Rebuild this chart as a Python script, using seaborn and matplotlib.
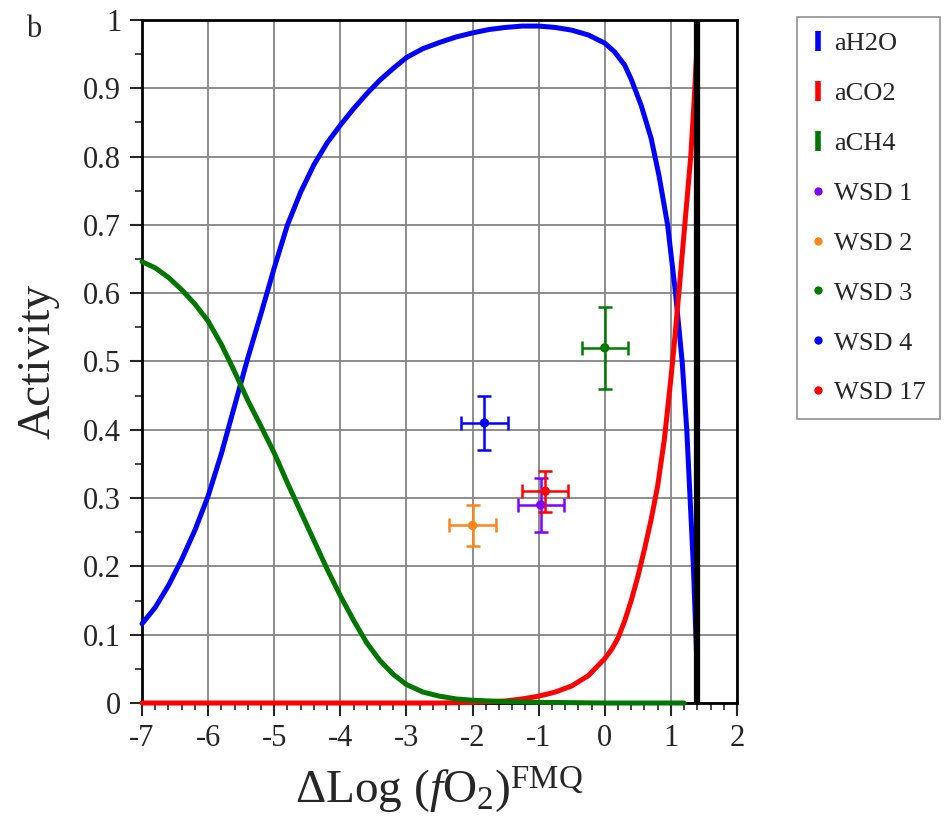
import numpy as np
import pandas as pd
import matplotlib
matplotlib.use("Agg")
import matplotlib.pyplot as plt
from matplotlib.lines import Line2D
from matplotlib.ticker import MultipleLocator, FuncFormatter
import seaborn as sns

# activity curves
h2o_x = [-7.0, -6.8, -6.6, -6.4, -6.2, -6.0, -5.8, -5.6, -5.4, -5.2, -5.0, -4.8, -4.6,
         -4.4, -4.2, -4.0, -3.8, -3.6, -3.4, -3.2, -3.0, -2.75, -2.5, -2.25, -2.0, -1.75,
         -1.5, -1.25, -1.0, -0.75, -0.5, -0.25, 0.0, 0.15, 0.3, 0.4, 0.55, 0.7, 0.82, 0.95,
         1.07, 1.17, 1.24, 1.29, 1.34, 1.37, 1.40]
h2o_y = [0.116, 0.14, 0.172, 0.21, 0.253, 0.303, 0.365, 0.435, 0.505, 0.57, 0.637, 0.70, 0.748,
         0.788, 0.82, 0.846, 0.870, 0.892, 0.912, 0.929, 0.945, 0.958, 0.967, 0.975, 0.981, 0.986,
         0.989, 0.991, 0.991, 0.989, 0.985, 0.978, 0.966, 0.953, 0.934, 0.913, 0.875, 0.827, 0.772, 0.70,
         0.60, 0.50, 0.40, 0.30, 0.20, 0.12, 0.04]

co2_x = [-7.0, -2.5, -2.0, -1.5, -1.25, -1.0, -0.75, -0.5, -0.25, 0.0, 0.1, 0.2, 0.3, 0.4,
         0.5, 0.6, 0.7, 0.8, 0.9, 1.0, 1.05, 1.12, 1.21, 1.30, 1.35, 1.40]
co2_y = [0.0, 0.0, 0.001, 0.003, 0.006, 0.01, 0.016, 0.025, 0.04, 0.065, 0.078, 0.095, 0.12, 0.15,
         0.185, 0.225, 0.268, 0.318, 0.385, 0.475, 0.525, 0.60, 0.70, 0.80, 0.88, 0.97]

ch4_x = [-7.0, -6.8, -6.6, -6.4, -6.2, -6.0, -5.8, -5.6, -5.4, -5.2, -5.0, -4.8, -4.6, -4.4,
         -4.2, -4.0, -3.8, -3.6, -3.4, -3.2, -3.0, -2.75, -2.5, -2.25, -2.0, -1.5, -1.0, 0.0, 1.2]
ch4_y = [0.646, 0.637, 0.623, 0.605, 0.584, 0.559, 0.525, 0.485, 0.443, 0.405, 0.366, 0.322, 0.28,
         0.238, 0.196, 0.157, 0.121, 0.088, 0.062, 0.042, 0.027, 0.016, 0.01, 0.006, 0.004, 0.002,
         0.001, 0.0, 0.0]

fmq_limit = 1.4

# samples
samples = ['WSD 1', 'WSD 2', 'WSD 3', 'WSD 4', 'WSD 17']
sample_x = [-0.97, -2.0, 0.0, -1.82, -0.9]
sample_y = [0.29, 0.26, 0.52, 0.41, 0.31]
sample_xerr = [0.35, 0.35, 0.35, 0.35, 0.35]
sample_yerr = [0.04, 0.03, 0.06, 0.04, 0.03]
sample_colors = ['#7f00ff', '#ff8419', '#007a00', '#0000ff', '#ff0000']

curve_names = ['aH2O', 'aCO2', 'aCH4']
curve_colors = ['#0000ff', '#ff0000', '#007500']

sns.set_style('ticks')
plt.rcParams['font.family'] = ['Liberation Serif', 'DejaVu Serif']
plt.rcParams['mathtext.fontset'] = 'custom'
plt.rcParams['mathtext.rm'] = 'Liberation Serif'
plt.rcParams['mathtext.it'] = 'Liberation Serif:italic'
plt.rcParams['axes.unicode_minus'] = False

curves = pd.concat([
    pd.DataFrame({'x': h2o_x, 'y': h2o_y, 'species': 'aH2O'}),
    pd.DataFrame({'x': co2_x, 'y': co2_y, 'species': 'aCO2'}),
    pd.DataFrame({'x': ch4_x, 'y': ch4_y, 'species': 'aCH4'}),
])
pts = pd.DataFrame({'x': sample_x, 'y': sample_y, 'sample': samples})

fig = plt.figure(figsize=(9.5, 8.3), dpi=100)
ax = fig.add_axes([0.1495, 0.153, 0.6263, 0.823])

ax.grid(True, which='major', color='#858585', linewidth=1.3)
ax.set_axisbelow(True)

sns.lineplot(data=curves, x='x', y='y', hue='species', hue_order=curve_names,
             palette=curve_colors, linewidth=3.6, legend=False, ax=ax, clip_on=False, zorder=3)
ax.axvline(fmq_limit, color='black', linewidth=4.5, zorder=4)

for i, s in enumerate(samples):
    ax.errorbar(sample_x[i], sample_y[i], xerr=sample_xerr[i], yerr=sample_yerr[i],
                fmt='none', ecolor=sample_colors[i], elinewidth=1.8, capsize=5, capthick=1.8,
                zorder=5)
sns.scatterplot(data=pts, x='x', y='y', hue='sample', hue_order=samples,
                palette=sample_colors, s=45, edgecolor='none', legend=False, ax=ax, zorder=6)

ax.set_xlim(-7, 2)
ax.set_ylim(0, 1)
ax.xaxis.set_major_locator(MultipleLocator(1))
ax.xaxis.set_minor_locator(MultipleLocator(0.2))
ax.yaxis.set_major_locator(MultipleLocator(0.1))
ax.yaxis.set_minor_locator(MultipleLocator(0.05))
ax.yaxis.set_major_formatter(FuncFormatter(lambda v, p: f'{v:g}'))
ax.tick_params(which='major', length=9, width=1.5, labelsize=22, direction='out', pad=6)
ax.tick_params(which='minor', length=5, width=1.2, direction='out')
for sp in ax.spines.values():
    sp.set_linewidth(2)
    sp.set_color('black')

ax.set_xlabel('ΔLog ($f$O$_2$)$^{\\mathrm{FMQ}}$', fontsize=34, labelpad=9)
ax.set_ylabel('Activity', fontsize=34, labelpad=17)
fig.text(0.035, 0.965, 'b', fontsize=22, va='center', ha='center')

handles = [Line2D([], [], color=c, marker='|', linestyle='none', markersize=14,
                  markeredgewidth=4) for c in curve_colors]
handles += [Line2D([], [], color=c, marker='o', linestyle='none', markersize=6,
                   markeredgewidth=0) for c in sample_colors]
labels = curve_names + samples
leg = fig.legend(handles, labels, loc='upper left', bbox_to_anchor=(0.839, 0.979),
                 fontsize=19, frameon=True, fancybox=False, edgecolor='#777777',
                 labelspacing=1.0, handlelength=0.5, handletextpad=0.35, borderpad=0.55,
                 borderaxespad=0)
leg.get_frame().set_linewidth(1.2)

fig.savefig('out.png', dpi=100)
